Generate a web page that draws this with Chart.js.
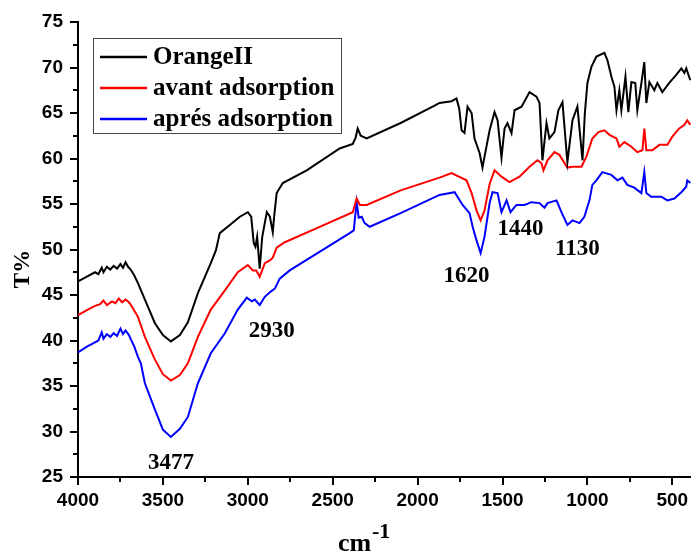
<!DOCTYPE html>
<html>
<head>
<meta charset="utf-8">
<script src="https://cdn.jsdelivr.net/npm/chart.js@4.4.1/dist/chart.umd.min.js"></script>
<style>
  html, body { margin: 0; padding: 0; background: #fff; }
  #wrap { width: 691px; height: 553px; position: relative; }
</style>
</head>
<body>
<div id="wrap"><canvas id="chartFTIR"></canvas></div>
<script>
// Spectres IR (nombre d'onde en cm-1, transmittance en %)
const orangeWn = [4000,3950,3900,3880,3860,3850,3830,3810,3790,3770,3750,3735,3720,3705,3690,3670,3647,3606,3547,3500,3453,3400,3353,3294,3218,3188,3165,3106,3047,3000,2980,2965,2955,2945,2930,2915,2888,2870,2853,2845,2830,2794,2653,2459,2382,2365,2353,2335,2300,2100,1900,1871,1800,1771,1755,1741,1724,1706,1682,1665,1635,1618,1606,1576,1547,1529,1506,1488,1471,1447,1429,1388,1341,1300,1282,1265,1241,1224,1194,1171,1147,1118,1088,1059,1029,1015,1000,976,947,900,882,859,841,829,812,800,776,759,741,718,706,682,665,653,635,606,588,559,518,477,447,429,418,394];
const orangeT  = [46.5,47.0,47.5,47.3,48.0,47.5,48.1,47.8,48.2,47.9,48.4,48.0,48.6,48.1,47.8,47.2,46.3,44.5,41.9,40.6,39.9,40.6,42.0,45.2,48.5,49.9,51.8,52.7,53.6,54.1,53.6,50.7,50.3,51.4,47.9,51.4,54.1,53.6,51.9,53.6,56.2,57.3,58.7,61.1,61.6,62.3,63.3,62.5,62.2,63.9,65.8,66.1,66.3,66.6,65.5,63.1,62.8,65.7,65.0,62.2,60.6,59.0,60.2,63.1,65.1,64.2,60.1,63.3,63.9,62.8,65.3,65.7,67.3,66.8,66.1,59.8,63.9,62.2,62.9,65.3,66.2,59.6,64.2,65.7,59.8,65.0,68.3,70.1,71.2,71.6,70.8,69.0,67.9,65.3,67.5,65.3,69.0,65.1,68.4,68.3,65.3,68.3,70.6,66.1,68.4,67.5,68.3,67.3,68.3,69.2,69.9,69.4,69.9,68.6];

const avantWn = [4000,3950,3900,3870,3850,3830,3800,3780,3760,3740,3720,3700,3688,3647,3606,3547,3500,3453,3400,3353,3294,3218,3135,3059,3000,2970,2950,2930,2900,2870,2853,2830,2782,2600,2382,2359,2340,2300,2100,1871,1800,1712,1682,1653,1629,1606,1576,1547,1506,1459,1400,1341,1294,1271,1259,1235,1194,1165,1118,1088,1035,1006,971,935,900,870,829,812,782,741,706,676,665,653,618,576,529,500,459,429,412,394];
const avantT  = [42.8,43.3,43.8,44.0,44.4,43.9,44.3,44.1,44.6,44.2,44.5,44.2,43.9,42.6,40.4,37.9,36.3,35.6,36.2,37.5,40.4,43.4,45.5,47.5,48.3,47.7,47.7,47.0,48.5,48.8,49.1,50.2,50.8,52.3,54.1,55.6,54.9,54.9,56.5,57.9,58.4,57.6,56.2,54.3,53.2,54.3,57.2,58.7,58.0,57.4,58.0,59.1,59.8,59.5,58.7,59.8,60.7,60.4,59.0,59.1,59.1,60.2,62.2,62.9,63.1,62.6,62.2,61.3,61.8,61.3,60.7,60.9,63.3,60.9,60.9,61.5,61.5,62.4,63.3,63.7,64.2,63.7];

const apresWn = [4000,3950,3900,3880,3860,3850,3830,3810,3790,3770,3750,3735,3720,3700,3688,3670,3647,3630,3606,3547,3500,3453,3400,3353,3294,3218,3135,3059,3006,2976,2959,2930,2900,2870,2841,2812,2753,2400,2376,2359,2347,2329,2312,2282,2100,1871,1782,1735,1694,1676,1653,1629,1606,1576,1559,1529,1506,1476,1453,1418,1371,1329,1282,1253,1235,1182,1153,1118,1088,1047,1018,1000,988,971,947,912,859,823,794,765,724,682,665,653,624,565,529,488,447,418,412,394];
const apresT  = [38.7,39.3,39.8,40.0,40.9,40.2,40.7,40.4,40.8,40.5,41.3,40.7,41.1,40.6,40.1,39.4,38.2,37.5,35.3,32.4,30.2,29.4,30.3,31.6,35.3,38.6,40.8,43.4,44.7,44.3,44.5,43.9,44.8,45.3,45.7,46.8,47.7,51.8,52.1,55.2,53.5,53.6,52.9,52.5,54.0,56.0,56.3,54.9,54.0,52.5,51.0,49.6,51.4,55.1,56.3,56.2,54.1,55.4,54.1,54.9,54.9,55.2,55.1,54.6,55.1,55.4,54.1,52.7,53.2,52.9,53.6,54.7,55.4,57.1,57.6,58.5,58.2,57.6,57.9,57.1,56.8,56.2,58.5,56.2,55.8,55.8,55.4,55.6,56.3,56.9,57.6,57.3];

const seriesLabels = ['OrangeII', 'avant adsorption', 'aprés adsorption'];
const seriesColors = ['#000000', '#ff0000', '#0000ff'];

const xMajor = [4000, 3500, 3000, 2500, 2000, 1500, 1000, 500];
const xMinor = [3750, 3250, 2750, 2250, 1750, 1250, 750];
const yMajor = [25, 30, 35, 40, 45, 50, 55, 60, 65, 70, 75];
const yMinor = [27.5, 32.5, 37.5, 42.5, 47.5, 52.5, 57.5, 62.5, 67.5, 72.5];

// Bandes annotées
const bandLabels = ['3477', '2930', '1620', '1440', '1130'];
const bandX = [3453, 2859, 1712, 1394, 1059];
const bandY = [26.5, 41.0, 47.1, 52.3, 50.1];

function toPoints(wn, t) {
    return wn.map((w, i) => ({ x: w, y: t[i] }));
}

// Ticks, légende, titres et annotations dessinés à la main
const decorPlugin = {
    id: 'decor',
    afterDraw(chart) {
        const ctx = chart.ctx;
        const xs = chart.scales.x;
        const ys = chart.scales.y;
        const area = chart.chartArea;
        ctx.save();
        ctx.strokeStyle = '#000';
        ctx.lineWidth = 2;
        xMajor.forEach(v => {
            const px = Math.round(xs.getPixelForValue(v));
            ctx.beginPath(); ctx.moveTo(px, area.bottom); ctx.lineTo(px, area.bottom + 8); ctx.stroke();
        });
        xMinor.forEach(v => {
            const px = Math.round(xs.getPixelForValue(v));
            ctx.beginPath(); ctx.moveTo(px, area.bottom); ctx.lineTo(px, area.bottom + 5); ctx.stroke();
        });
        yMajor.forEach(v => {
            const py = Math.round(ys.getPixelForValue(v));
            ctx.beginPath(); ctx.moveTo(area.left, py); ctx.lineTo(area.left - 8, py); ctx.stroke();
        });
        yMinor.forEach(v => {
            const py = Math.round(ys.getPixelForValue(v));
            ctx.beginPath(); ctx.moveTo(area.left, py); ctx.lineTo(area.left - 5, py); ctx.stroke();
        });

        // légende
        ctx.lineWidth = 1;
        ctx.strokeStyle = '#444';
        ctx.fillStyle = '#fff';
        ctx.fillRect(93, 38, 248, 95);
        ctx.strokeRect(93.5, 38.5, 248, 95);
        ctx.font = 'bold 25px "Liberation Serif", "Times New Roman", serif';
        ctx.textBaseline = 'middle';
        ctx.textAlign = 'left';
        seriesLabels.forEach((lab, i) => {
            const y = 57 + i * 31;
            ctx.strokeStyle = seriesColors[i];
            ctx.lineWidth = 2.5;
            ctx.beginPath(); ctx.moveTo(100, y); ctx.lineTo(147, y); ctx.stroke();
            ctx.fillStyle = '#000';
            ctx.fillText(lab, 153, y + 1);
        });

        // annotations
        ctx.font = 'bold 23px "Liberation Serif", "Times New Roman", serif';
        ctx.textAlign = 'center';
        ctx.textBaseline = 'middle';
        bandLabels.forEach((lab, i) => {
            ctx.fillText(lab, xs.getPixelForValue(bandX[i]), ys.getPixelForValue(bandY[i]));
        });

        // titre de l'axe x : cm-1
        ctx.textAlign = 'left';
        ctx.textBaseline = 'alphabetic';
        ctx.font = 'bold 26px "Liberation Serif", "Times New Roman", serif';
        ctx.fillText('cm', 338, 551);
        ctx.font = 'bold 22px "Liberation Serif", "Times New Roman", serif';
        ctx.fillText('-1', 372, 538);

        // titre de l'axe y : T%
        ctx.translate(29, 269);
        ctx.rotate(-Math.PI / 2);
        ctx.textAlign = 'center';
        ctx.font = 'bold 23px "Liberation Serif", "Times New Roman", serif';
        ctx.fillText('T%', 0, 0);
        ctx.restore();
    }
};

function criarGrafico() {
    const ctx = document.getElementById('chartFTIR');
    const wns = [orangeWn, avantWn, apresWn];
    const ts = [orangeT, avantT, apresT];

    new Chart(ctx, {
        type: 'line',
        data: {
            datasets: seriesLabels.map((lab, i) => ({
                label: lab,
                data: toPoints(wns[i], ts[i]),
                borderColor: seriesColors[i],
                borderWidth: 2,
                pointRadius: 0,
                tension: 0,
                fill: false
            }))
        },
        options: {
            responsive: true,
            maintainAspectRatio: false,
            animation: false,
            layout: { padding: { top: 22, right: 0, left: 0, bottom: 0 } },
            plugins: {
                legend: { display: false },
                tooltip: { enabled: false }
            },
            scales: {
                x: {
                    type: 'linear',
                    reverse: true,
                    min: 390,
                    max: 4000,
                    afterBuildTicks: s => { s.ticks = xMajor.map(v => ({ value: v })); },
                    afterFit: s => { s.height = 76; s.paddingLeft = 0; s.paddingRight = 0; },
                    ticks: {
                        padding: 12,
                        color: '#000',
                        maxRotation: 0,
                        autoSkip: false,
                        callback: v => String(v),
                        font: { family: '"Liberation Sans", Arial, sans-serif', size: 19, weight: 'bold' }
                    },
                    grid: { display: false, drawTicks: false },
                    border: { display: true, color: '#000', width: 2 }
                },
                y: {
                    min: 25,
                    max: 75,
                    afterBuildTicks: s => { s.ticks = yMajor.map(v => ({ value: v })); },
                    afterFit: s => { s.width = 78; s.paddingTop = 0; s.paddingBottom = 0; },
                    ticks: {
                        padding: 15,
                        color: '#000',
                        callback: v => String(v),
                        font: { family: '"Liberation Sans", Arial, sans-serif', size: 19, weight: 'bold' }
                    },
                    grid: { display: false, drawTicks: false },
                    border: { display: true, color: '#000', width: 2 }
                }
            }
        },
        plugins: [decorPlugin]
    });
}

document.addEventListener('DOMContentLoaded', function() {
    criarGrafico();
});
</script>
</body>
</html>
